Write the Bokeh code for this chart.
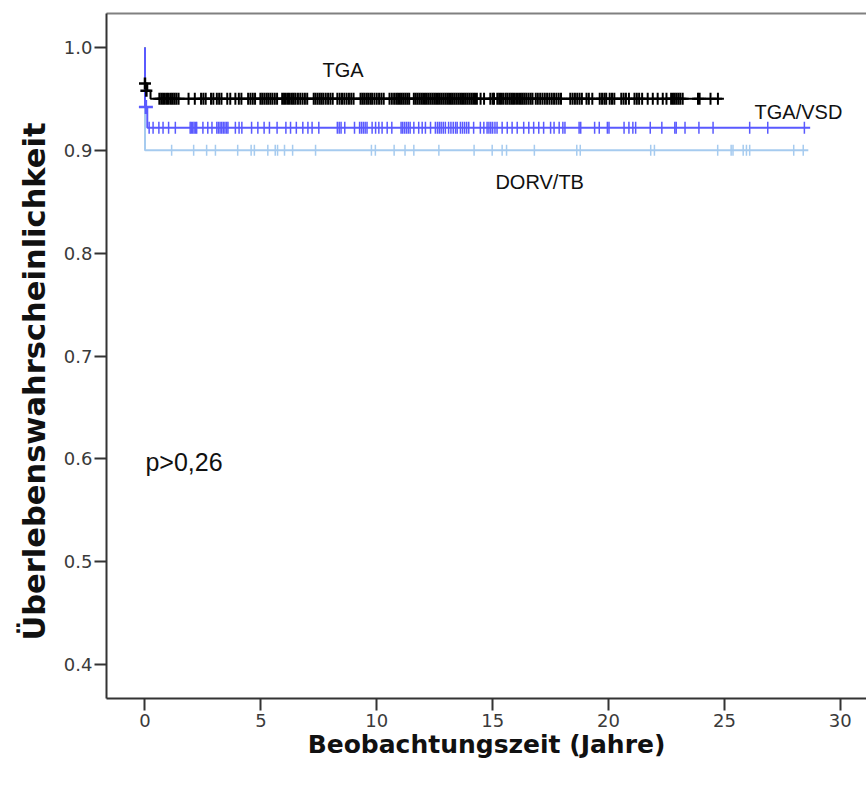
import math
from bokeh.plotting import figure
from bokeh.models import Range1d, FixedTicker, NumeralTickFormatter, LinearAxis, Label, Title
from bokeh.embed import file_html
from bokeh.resources import INLINE

# ---------------- data ----------------
x_ticks = [0, 5, 10, 15, 20, 25, 30]
y_ticks = [0.4, 0.5, 0.6, 0.7, 0.8, 0.9, 1.0]

# step curves (time, survival)
tga_t = [0.0, 0.0, 0.10, 0.24, 24.9]
tga_s = [1.0, 0.965, 0.958, 0.950, 0.950]
vsd_t = [0.0, 0.0, 0.10, 28.7]
vsd_s = [1.0, 0.942, 0.922, 0.922]
dorv_t = [0.0, 0.0, 28.62]
dorv_s = [1.0, 0.900, 0.900]

# early censored cases
tga_early_t = [0.0, 0.06]
tga_early_s = [0.965, 0.958]
vsd_early_t = [0.04]
vsd_early_s = [0.942]

# censored times (years)
tga_cens = [0.62, 0.70, 0.78, 0.86, 0.95, 1.03, 1.12, 1.20, 1.28, 1.36, 1.45,
            1.88, 2.15, 2.42, 2.52, 2.62, 2.85, 2.95, 3.10, 3.20, 3.30, 3.55, 3.68,
            3.90, 4.05, 4.16, 4.45, 4.55, 4.65, 4.75, 4.98, 5.06, 5.15, 5.24, 5.32,
            5.41, 5.50, 5.60, 5.70, 5.92, 6.00, 6.08, 6.17, 6.25, 6.34, 6.42, 6.50,
            6.60, 6.70, 6.80, 6.90, 7.00, 7.28, 7.36, 7.45, 7.54, 7.62, 7.70, 7.80,
            7.90, 8.00, 8.10, 8.30, 8.40, 8.50, 8.60, 8.70, 8.80, 8.90, 9.00, 9.30,
            9.38, 9.46, 9.55, 9.63, 9.72, 9.80, 9.90, 10.00, 10.10, 10.20, 10.30,
            10.55, 10.65, 10.75, 10.84, 10.92, 11.00, 11.08, 11.16, 11.24, 11.32,
            11.40, 11.60, 11.68, 11.76, 11.84, 11.92, 12.00, 12.08, 12.16, 12.24,
            12.32, 12.40, 12.48, 12.56, 12.64, 12.72, 12.80, 12.88, 12.96, 13.04,
            13.12, 13.20, 13.28, 13.36, 13.44, 13.52, 13.60, 13.68, 13.76, 13.84,
            13.92, 14.00, 14.08, 14.16, 14.24, 14.32, 14.48, 14.63, 14.90, 15.00,
            15.06, 15.20, 15.28, 15.36, 15.45, 15.55, 15.63, 15.72, 15.80, 15.88,
            15.96, 16.05, 16.14, 16.22, 16.30, 16.38, 16.46, 16.55, 16.64, 16.72,
            16.86, 16.95, 17.05, 17.15, 17.25, 17.35, 17.45, 17.55, 17.65, 17.75,
            17.85, 17.95, 18.35, 18.45, 18.55, 18.65, 18.75, 18.85, 19.05, 19.15,
            19.30, 19.62, 19.72, 19.82, 19.90, 20.05, 20.15, 20.25, 20.55, 20.65,
            20.75, 20.88, 21.12, 21.22, 21.32, 21.45, 21.69, 21.91, 22.12, 22.34,
            22.50, 22.70, 22.78, 22.86, 22.94, 23.02, 23.10, 23.20, 23.86, 23.93,
            24.40, 24.72]
vsd_cens = [0.18, 0.35, 0.60, 0.78, 1.02, 1.31, 1.95, 2.00, 2.06, 2.12, 2.18, 2.23,
            2.50, 2.71, 2.89, 3.10, 3.17, 3.24, 3.31, 3.38, 3.45, 3.52, 3.58, 3.90,
            4.06, 4.18, 4.60, 4.87, 5.14, 5.37, 5.70, 6.08, 6.28, 6.53, 6.81, 7.03,
            7.21, 7.50, 8.30, 8.38, 8.46, 8.62, 9.04, 9.26, 9.34, 9.42, 9.50, 9.58,
            9.80, 9.95, 10.09, 10.23, 10.45, 10.65, 11.05, 11.12, 11.20, 11.28,
            11.36, 11.44, 11.60, 11.81, 11.96, 12.10, 12.32, 12.53, 12.62, 12.70,
            12.78, 12.87, 12.96, 13.10, 13.20, 13.30, 13.40, 13.47, 13.61, 13.70,
            13.79, 13.88, 13.97, 14.18, 14.47, 14.62, 14.76, 14.84, 14.92, 15.00,
            15.10, 15.19, 15.41, 15.63, 15.84, 16.06, 16.34, 16.56, 16.77, 16.99,
            17.20, 17.50, 17.65, 17.87, 18.03, 18.12, 18.73, 18.80, 19.40, 19.60,
            19.95, 20.02, 20.67, 20.88, 21.05, 21.17, 21.80, 22.30, 22.86, 22.92,
            23.30, 23.90, 24.51, 26.09, 26.87, 28.45]
dorv_cens = [1.15, 2.10, 2.66, 3.04, 4.00, 4.58, 4.72, 5.30, 5.62, 5.72, 6.02, 6.37,
             7.36, 9.77, 9.94, 10.75, 11.22, 11.60, 12.68, 14.20, 14.98, 15.41,
             15.60, 16.80, 18.63, 18.78, 21.82, 21.98, 24.71, 25.29, 25.37, 25.81,
             25.95, 26.09, 27.99, 28.40]

tga_level = 0.950
vsd_level = 0.922
dorv_level = 0.900

labels = ["TGA", "TGA/VSD", "DORV/TB"]
label_x = [7.66, 26.3, 15.12]
label_y = [0.978, 0.937, 0.869]
p_text = "p>0,26"
p_x, p_y = 0.02, 0.597

x_title = "Beobachtungszeit (Jahre)"
y_title = "Überlebenswahrscheinlichkeit"

# ---------------- colours / fonts ----------------
C_TGA = "#000000"
C_VSD = "#5a5aff"
C_DORV = "#a6cbef"
FONT = "Liberation Sans"
TFONT = "DejaVu Sans"

p = figure(width=866, height=785, output_backend="svg", toolbar_location=None,
           x_range=Range1d(-1.66, 31.13), y_range=Range1d(0.367, 1.033),
           min_border_left=106, min_border_right=0, min_border_top=13,
           min_border_bottom=87)
p.outline_line_color = None
p.xgrid.visible = False
p.ygrid.visible = False
p.background_fill_color = "white"
p.border_fill_color = "white"

# step lines
p.step(tga_t, tga_s, mode="after", line_color=C_TGA, line_width=2)
p.step(dorv_t, dorv_s, mode="after", line_color=C_DORV, line_width=2)
p.step(vsd_t, vsd_s, mode="after", line_color=C_VSD, line_width=2)

# censor marks
p.scatter(dorv_cens, [dorv_level] * len(dorv_cens), marker="dash", angle=math.pi / 2,
          size=11, line_color=C_DORV, line_width=1.5)
p.scatter(vsd_cens, [vsd_level] * len(vsd_cens), marker="dash", angle=math.pi / 2,
          size=12, line_color=C_VSD, line_width=1.5)
p.scatter(tga_cens, [tga_level] * len(tga_cens), marker="cross",
          size=12, line_color=C_TGA, line_width=2)
p.scatter(tga_early_t, tga_early_s, marker="cross", size=12, line_color=C_TGA, line_width=2.5)
p.scatter(vsd_early_t, vsd_early_s, marker="cross", size=14, line_color=C_VSD, line_width=2.5)

# labels
for txt, lx, ly in zip(labels, label_x, label_y):
    p.add_layout(Label(x=lx, y=ly, text=txt, text_font=FONT, text_font_size="20px",
                       text_color="#111111", text_baseline="middle", text_align="left"))
p.add_layout(Label(x=p_x, y=p_y, text=p_text, text_font=FONT, text_font_size="25px",
                   text_color="#111111", text_baseline="middle", text_align="left"))

# axes
for ax in (p.xaxis[0], p.yaxis[0]):
    ax.axis_line_color = "#333333"
    ax.axis_line_width = 2
    ax.major_tick_line_color = "#333333"
    ax.major_tick_line_width = 2
    ax.major_tick_out = 12
    ax.major_tick_in = 0
    ax.minor_tick_line_color = None
    ax.major_label_text_font = TFONT
    ax.major_label_text_font_size = "18px"
    ax.major_label_text_color = "#3a3a3a"
    ax.axis_label_text_font = TFONT
    ax.axis_label_text_font_size = "25px"
    ax.axis_label_text_font_style = "bold"
    ax.axis_label_text_color = "#111111"

p.xaxis.ticker = FixedTicker(ticks=x_ticks)
p.yaxis.ticker = FixedTicker(ticks=y_ticks)
p.yaxis.formatter = NumeralTickFormatter(format="0.0")
p.xaxis.axis_label = x_title
p.xaxis.major_label_standoff = 3
p.yaxis.major_label_standoff = 2
p.xaxis.axis_label_standoff = 0

# y title as a left title (allows offset along the axis)
ytitle = Title(text=y_title, align="left", offset=58, standoff=17,
               text_font=TFONT, text_font_size="30.5px", text_font_style="bold",
               text_color="#111111")
p.add_layout(ytitle, "left")

top = LinearAxis(axis_line_color="#808080", axis_line_width=2,
                 major_tick_line_color=None, minor_tick_line_color=None,
                 major_label_text_font_size="0px", major_tick_out=0, major_tick_in=0,
                 major_label_standoff=0, ticker=FixedTicker(ticks=[]))
p.add_layout(top, "above")

open("out.html", "w").write(file_html(p, INLINE))
